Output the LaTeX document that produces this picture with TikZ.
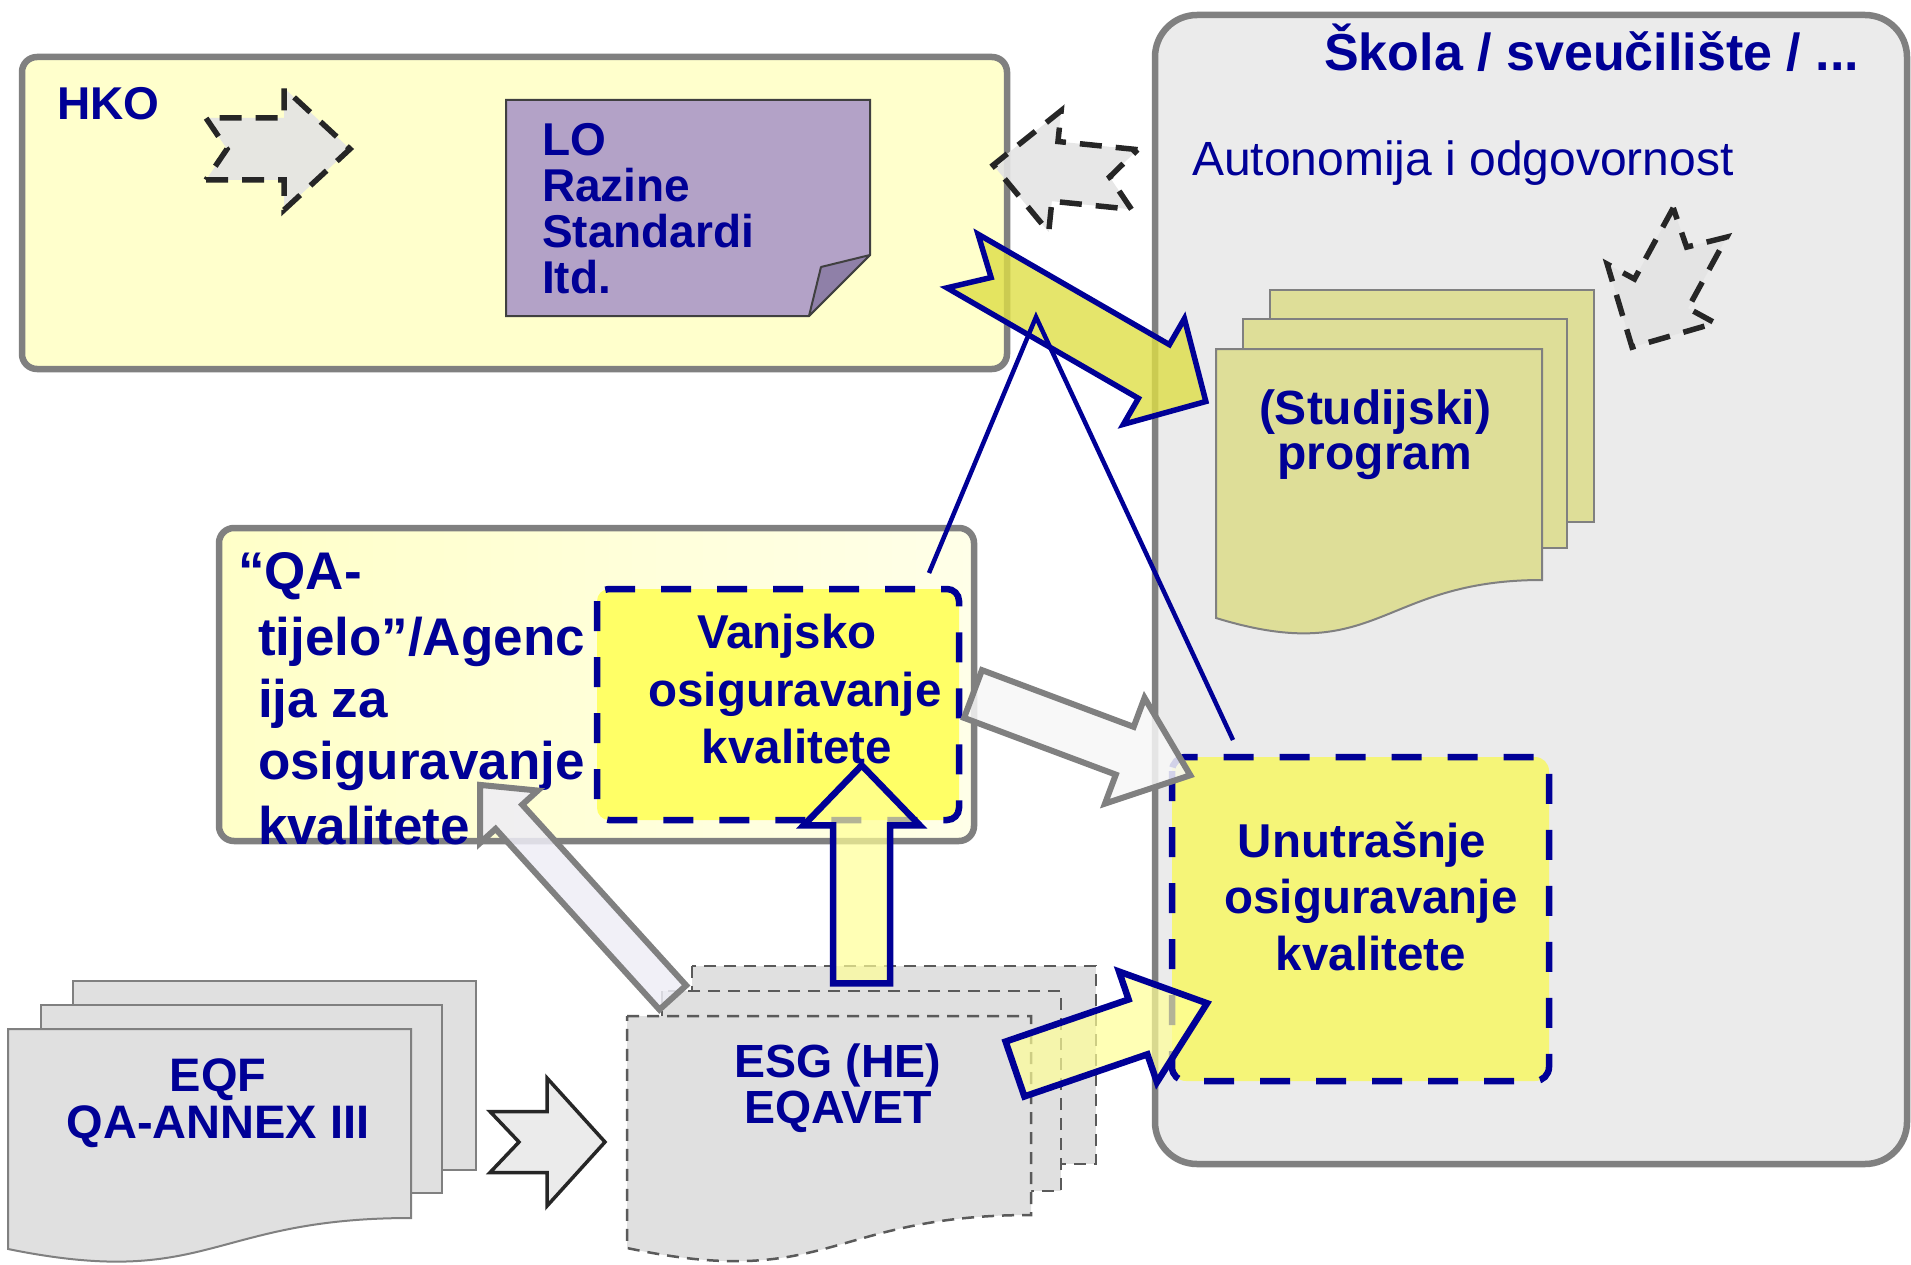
\documentclass[tikz,border=0pt]{standalone}
\usepackage{fontspec}
\setmainfont{Liberation Sans}
\newcommand\myfs[1]{\fontsize{#1}{#1}\selectfont}
\definecolor{navy}{RGB}{0,0,150}
\definecolor{bordergray}{RGB}{128,128,128}
\definecolor{hkofill}{RGB}{255,255,204}
\definecolor{skolafill}{RGB}{235,235,235}
\definecolor{lofill}{RGB}{179,162,199}
\definecolor{lofold}{RGB}{143,128,168}
\definecolor{loborder}{RGB}{64,64,64}
\definecolor{progfill}{RGB}{222,222,152}
\definecolor{docgray}{RGB}{224,224,224}
\definecolor{esgborder}{RGB}{90,90,90}
\definecolor{vanfill}{RGB}{255,255,102}
\definecolor{unutfill}{RGB}{245,245,120}
\definecolor{dashfill}{RGB}{228,228,228}
\definecolor{bigyellow}{RGB}{222,222,70}
\definecolor{paleyellow}{RGB}{255,255,150}
\definecolor{lavender}{RGB}{238,237,246}
\definecolor{whitish}{RGB}{247,247,247}
\definecolor{chevfill}{RGB}{235,235,235}
\definecolor{darkline}{RGB}{38,38,38}
\definecolor{qaleft}{RGB}{255,255,200}
\definecolor{qaright}{RGB}{255,255,232}
\tikzset{
  graybox/.style={draw=bordergray, line width=6.5},
  navytext/.style={text=navy, inner sep=0pt, outer sep=0pt},
  navydash/.style={draw=navy, line width=6.5, dash pattern=on 30pt off 26pt},
  dasharrow/.style={draw=darkline, line width=5.5, dash pattern=on 22pt off 14pt, fill=dashfill, fill opacity=0.9, line join=miter},
  progdoc/.style={fill=progfill, draw=bordergray, line width=2},
  eqfdoc/.style={fill=docgray, draw=bordergray, line width=2},
  esgdoc/.style={fill=docgray, draw=esgborder, line width=2.5, dash pattern=on 12pt off 8pt},
  bigarrow/.style={fill=bigyellow, fill opacity=0.8, draw=navy, line width=5.5, line join=miter},
  navyarrow/.style={fill=paleyellow, fill opacity=0.7, draw=navy, line width=6.5, line join=miter},
  whitearrow/.style={fill=whitish, fill opacity=0.85, draw=bordergray, line width=6, line join=miter},
  lavarrow/.style={fill=lavender, fill opacity=0.85, draw=bordergray, line width=6, line join=miter},
  chevarrow/.style={fill=chevfill, draw=darkline, line width=3.5, line join=miter},
  connline/.style={draw=navy, line width=4.5}
}
\begin{document}
\begin{tikzpicture}[x=1pt,y=-1pt]
\useasboundingbox (0,0) rectangle (1911,1265);

% ---------- HKO box ----------
\draw[graybox, fill=hkofill, rounded corners=15] (22,57) rectangle (1007,369);
\node[navytext, anchor=base west, font=\bfseries\myfs{46}] (hko) at (57,119.5) {HKO};
\draw[dasharrow, shift={(206,149)}, rotate=0]
  (0,31) -- (78,31) -- (78,61) -- (144,0) -- (78,-61) -- (78,-31) -- (0,-31) -- (21,0) -- cycle;

% LO note
\draw[fill=lofill, draw=loborder, line width=2] (506,100) -- (870,100) -- (870,255) -- (809,316) -- (506,316) -- cycle;
\draw[fill=lofold, draw=loborder, line width=2, line join=round] (870,255) -- (821,267) -- (809,316) -- cycle;
\node[navytext, anchor=base west, font=\bfseries\myfs{46}] (lo1) at (542,155.5) {LO};
\node[navytext, anchor=base west, font=\bfseries\myfs{46}] (lo2) at (542,201.7) {Razine};
\node[navytext, anchor=base west, font=\bfseries\myfs{46}] (lo3) at (542,247.5) {Standardi};
\node[navytext, anchor=base west, font=\bfseries\myfs{46}] (lo4) at (542,293.5) {Itd.};

% ---------- Skola box ----------
\draw[graybox, fill=skolafill, rounded corners=42] (1155,15) rectangle (1907,1164);
\node[navytext, anchor=base east, font=\bfseries\myfs{52}] (skola) at (1859,70.5) {Škola / sveučilište / ...};
\node[navytext, anchor=base west, font=\myfs{48}] (auto) at (1192,176) {Autonomija i odgovornost};

% program documents
\draw[progdoc] (1270,290) rectangle (1594,522);
\draw[progdoc] (1243,319) rectangle (1567,548);
\draw[progdoc] (1216,349) -- (1542,349) -- (1542,580)
  .. controls (1379,580) and (1379,668) .. (1216,618) -- cycle;
\node[navytext, anchor=base, font=\bfseries\myfs{48}] (prog1) at (1375,424.5) {(Studijski)};
\node[navytext, anchor=base, font=\bfseries\myfs{48}] (prog2) at (1375,469) {program};

% dashed arrows at the school
\draw[dasharrow, shift={(1134.5,179.5)}, rotate=174.15]
  (0,30) -- (80,30) -- (80,61) -- (142,0) -- (80,-61) -- (80,-30) -- (0,-30) -- (25,0) -- cycle;
\draw[dasharrow, shift={(1700,222.5)}, rotate=-118.6]
  (0,30.5) -- (81,30.5) -- (81,61.5) -- (142,0) -- (81,-61.5) -- (81,-30.5) -- (0,-30.5) -- (28,0) -- cycle;

% ---------- QA box ----------
\path[graybox, left color=qaleft, right color=qaright, rounded corners=15] (219,528) rectangle (974,841);
\node[navytext, anchor=base west, font=\bfseries\myfs{53}] (qa1) at (238,589) {“QA-};
\node[navytext, anchor=base west, font=\bfseries\myfs{53}] (qa2) at (258,655) {tijelo”/Agenc};
\node[navytext, anchor=base west, font=\bfseries\myfs{53}] (qa3) at (258,717.5) {ija za};
\node[navytext, anchor=base west, font=\bfseries\myfs{53}] (qa4) at (258,779) {osiguravanje};
\node[navytext, anchor=base west, font=\bfseries\myfs{53}] (qa5) at (258,844) {kvalitete};

% Vanjsko box
\fill[vanfill, rounded corners=12] (597,589) rectangle (959,820);
\draw[navydash, rounded corners=12] (597,589) rectangle (959,820);
\node[navytext, anchor=base, font=\bfseries\myfs{47.5}] (van1) at (787,648.5) {Vanjsko};
\node[navytext, anchor=base, font=\bfseries\myfs{47.5}] (van2) at (795,706) {osiguravanje};
\node[navytext, anchor=base, font=\bfseries\myfs{47.5}] (van3) at (797,763) {kvalitete};

% big yellow arrow HKO -> program
\draw[bigarrow, shift={(962.5,261)}, rotate=-30]
  (0,31) -- (221,31) -- (221,61) -- (281,0) -- (221,-61) -- (221,-31) -- (0,-31) -- (33,0) -- cycle;

% navy connector lines
\coordinate (apex) at (1036,317);
\coordinate (lineL) at (929,573);
\coordinate (lineR) at (1233,740);
\draw[connline] (lineL) -- (apex) -- (lineR);

% Unutrasnje box
\fill[unutfill, rounded corners=14] (1172,757) rectangle (1549,1081);
\draw[navydash, rounded corners=14] (1172,757) rectangle (1549,1081);
\node[navytext, anchor=base, font=\bfseries\myfs{47.5}] (un1) at (1362,857) {Unutrašnje};
\node[navytext, anchor=base, font=\bfseries\myfs{47.5}] (un2) at (1371,913.5) {osiguravanje};
\node[navytext, anchor=base, font=\bfseries\myfs{47.5}] (un3) at (1371,970) {kvalitete};

% white arrow Vanjsko -> Unutrasnje
\draw[whitearrow, shift={(973,694)}, rotate=-20.5]
  (0,25.5) -- (162,25.5) -- (162,56.5) -- (232,0) -- (162,-56.5) -- (162,-25.5) -- (0,-25.5) -- cycle;

% ---------- EQF documents ----------
\draw[eqfdoc] (73,981) rectangle (476,1170);
\draw[eqfdoc] (41,1005) rectangle (442,1193);
\draw[eqfdoc] (8,1029) -- (411,1029) -- (411,1218)
  .. controls (209.5,1218) and (209.5,1290) .. (8,1249) -- cycle;
\node[navytext, anchor=base, font=\bfseries\myfs{47}] (eqf1) at (218,1091.5) {EQF};
\node[navytext, anchor=base, font=\bfseries\myfs{47}] (eqf2) at (218,1138.5) {QA-ANNEX III};

% ---------- ESG documents ----------
\draw[esgdoc] (692,966) rectangle (1096,1164);
\draw[esgdoc] (662,991) rectangle (1061,1191);
\draw[esgdoc] (627,1016) -- (1031,1016) -- (1031,1215)
  .. controls (829,1215) and (829,1291) .. (627,1248) -- cycle;
\node[navytext, anchor=base, font=\bfseries\myfs{46.5}] (esg1) at (838,1077.5) {ESG (HE)};
\node[navytext, anchor=base, font=\bfseries\myfs{46.5}] (esg2) at (838,1123.5) {EQAVET};

% EQF -> ESG arrow
\draw[chevarrow, shift={(490,1142)}, rotate=0]
  (0,30.5) -- (57,30.5) -- (57,64) -- (115,0) -- (57,-64) -- (57,-30.5) -- (0,-30.5) -- (29,0) -- cycle;

% ESG -> QA arrow (lavender)
\draw[lavarrow, shift={(672.8,997.5)}, rotate=132.2]
  (0,18) -- (244,18) -- (244,39) -- (287,0) -- (244,-39) -- (244,-18) -- (0,-18) -- cycle;

% ESG -> Vanjsko up arrow
\draw[navyarrow, shift={(861.7,983.3)}, rotate=90]
  (0,28.5) -- (158,28.5) -- (158,58) -- (218,0) -- (158,-58) -- (158,-28.5) -- (0,-28.5) -- cycle;

% ESG -> Unutrasnje arrow
\draw[navyarrow, shift={(1015,1069)}, rotate=18.9]
  (0,29) -- (130,29) -- (130,58.5) -- (203,0) -- (130,-58.5) -- (130,-29) -- (0,-29) -- cycle;

\end{tikzpicture}
\end{document}
